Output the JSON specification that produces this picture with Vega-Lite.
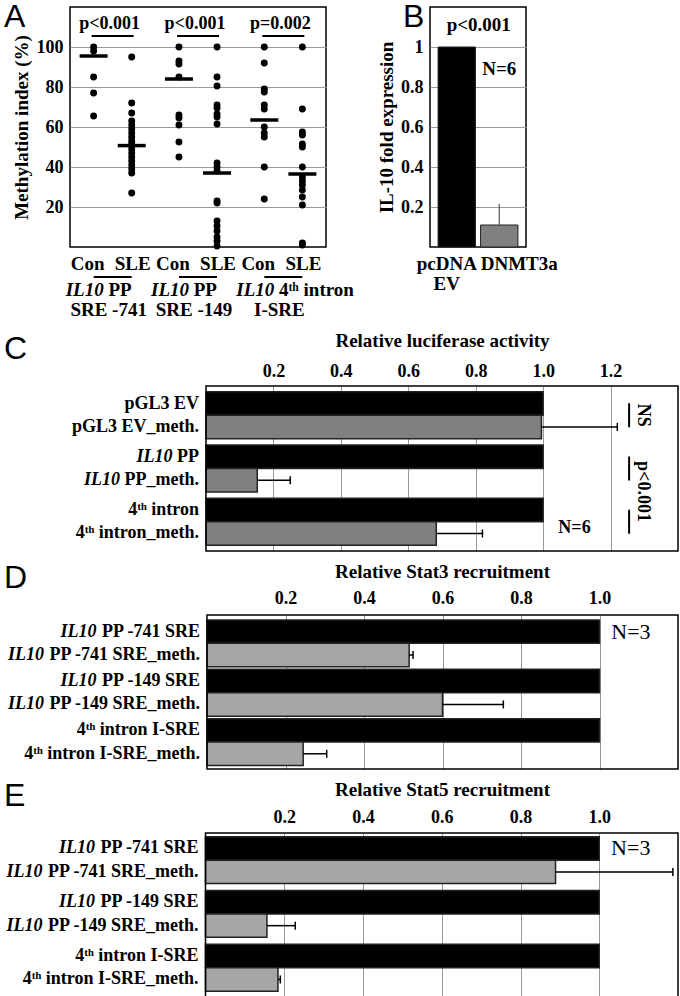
{
  "$schema": "https://vega.github.io/schema/vega-lite/v6.json",
  "background": "white",
  "padding": {"left": 3, "top": 0, "right": 0, "bottom": 0},
  "resolve": {"scale": {"color": "independent"}},
  "config": {
    "font": "Liberation Serif",
    "view": {"stroke": "#000", "strokeWidth": 1.5},
    "axis": {"labelFont": "Liberation Serif", "labelFontWeight": "bold", "labelFontSize": 18, "labelColor": "#000", "titleFont": "Liberation Serif", "titleFontWeight": "bold", "titleFontSize": 19, "titleColor": "#000", "domain": false, "ticks": false, "gridColor": "#999999", "gridWidth": 1},
    "title": {"font": "Liberation Sans", "fontWeight": "normal", "fontSize": 32, "anchor": "start", "frame": "group", "baseline": "alphabetic", "color": "#000"},
    "text": {"font": "Liberation Serif", "fontWeight": "bold", "fontSize": 18, "color": "#000"}
  },
  "datasets": {
    "dotsA": [
      {"grp": "g1", "cond": "Con", "v": 100}, {"grp": "g1", "cond": "Con", "v": 98}, {"grp": "g1", "cond": "Con", "v": 85}, {"grp": "g1", "cond": "Con", "v": 77}, {"grp": "g1", "cond": "Con", "v": 65.5},
      {"grp": "g1", "cond": "SLE", "v": 95}, {"grp": "g1", "cond": "SLE", "v": 72}, {"grp": "g1", "cond": "SLE", "v": 67}, {"grp": "g1", "cond": "SLE", "v": 63}, {"grp": "g1", "cond": "SLE", "v": 61}, {"grp": "g1", "cond": "SLE", "v": 59}, {"grp": "g1", "cond": "SLE", "v": 57}, {"grp": "g1", "cond": "SLE", "v": 55}, {"grp": "g1", "cond": "SLE", "v": 53}, {"grp": "g1", "cond": "SLE", "v": 51.5}, {"grp": "g1", "cond": "SLE", "v": 49}, {"grp": "g1", "cond": "SLE", "v": 47}, {"grp": "g1", "cond": "SLE", "v": 45}, {"grp": "g1", "cond": "SLE", "v": 43}, {"grp": "g1", "cond": "SLE", "v": 41}, {"grp": "g1", "cond": "SLE", "v": 39}, {"grp": "g1", "cond": "SLE", "v": 37}, {"grp": "g1", "cond": "SLE", "v": 27},
      {"grp": "g2", "cond": "Con", "v": 100}, {"grp": "g2", "cond": "Con", "v": 93}, {"grp": "g2", "cond": "Con", "v": 91.5}, {"grp": "g2", "cond": "Con", "v": 85}, {"grp": "g2", "cond": "Con", "v": 66}, {"grp": "g2", "cond": "Con", "v": 64.5}, {"grp": "g2", "cond": "Con", "v": 61}, {"grp": "g2", "cond": "Con", "v": 52.5}, {"grp": "g2", "cond": "Con", "v": 45},
      {"grp": "g2", "cond": "SLE", "v": 100}, {"grp": "g2", "cond": "SLE", "v": 85}, {"grp": "g2", "cond": "SLE", "v": 80.5}, {"grp": "g2", "cond": "SLE", "v": 71}, {"grp": "g2", "cond": "SLE", "v": 69.5}, {"grp": "g2", "cond": "SLE", "v": 66.5}, {"grp": "g2", "cond": "SLE", "v": 65}, {"grp": "g2", "cond": "SLE", "v": 61.5}, {"grp": "g2", "cond": "SLE", "v": 42}, {"grp": "g2", "cond": "SLE", "v": 40}, {"grp": "g2", "cond": "SLE", "v": 38}, {"grp": "g2", "cond": "SLE", "v": 23}, {"grp": "g2", "cond": "SLE", "v": 22}, {"grp": "g2", "cond": "SLE", "v": 13}, {"grp": "g2", "cond": "SLE", "v": 10.5}, {"grp": "g2", "cond": "SLE", "v": 8}, {"grp": "g2", "cond": "SLE", "v": 5}, {"grp": "g2", "cond": "SLE", "v": 3}, {"grp": "g2", "cond": "SLE", "v": 0.5},
      {"grp": "g3", "cond": "Con", "v": 100}, {"grp": "g3", "cond": "Con", "v": 92}, {"grp": "g3", "cond": "Con", "v": 79}, {"grp": "g3", "cond": "Con", "v": 77.5}, {"grp": "g3", "cond": "Con", "v": 71}, {"grp": "g3", "cond": "Con", "v": 69}, {"grp": "g3", "cond": "Con", "v": 60}, {"grp": "g3", "cond": "Con", "v": 57}, {"grp": "g3", "cond": "Con", "v": 55}, {"grp": "g3", "cond": "Con", "v": 40}, {"grp": "g3", "cond": "Con", "v": 24},
      {"grp": "g3", "cond": "SLE", "v": 100}, {"grp": "g3", "cond": "SLE", "v": 69}, {"grp": "g3", "cond": "SLE", "v": 57.5}, {"grp": "g3", "cond": "SLE", "v": 56}, {"grp": "g3", "cond": "SLE", "v": 51.5}, {"grp": "g3", "cond": "SLE", "v": 50}, {"grp": "g3", "cond": "SLE", "v": 40}, {"grp": "g3", "cond": "SLE", "v": 35}, {"grp": "g3", "cond": "SLE", "v": 33}, {"grp": "g3", "cond": "SLE", "v": 31}, {"grp": "g3", "cond": "SLE", "v": 28.5}, {"grp": "g3", "cond": "SLE", "v": 25}, {"grp": "g3", "cond": "SLE", "v": 21}, {"grp": "g3", "cond": "SLE", "v": 2}, {"grp": "g3", "cond": "SLE", "v": 1}
    ],
    "meansA": [
      {"grp": "g1", "cond": "Con", "v": 95.5}, {"grp": "g1", "cond": "SLE", "v": 50.7},
      {"grp": "g2", "cond": "Con", "v": 84}, {"grp": "g2", "cond": "SLE", "v": 37},
      {"grp": "g3", "cond": "Con", "v": 63.5}, {"grp": "g3", "cond": "SLE", "v": 36.5}
    ],
    "groupsA": [
      {"grp": "g1", "p": "p<0.001", "pre": "IL10", "mid": "PP", "l2": "SRE -741"},
      {"grp": "g2", "p": "p<0.001", "pre": "IL10", "mid": "PP", "l2": "SRE -149"},
      {"grp": "g3", "p": "p=0.002", "pre": "IL10", "mid": "4ᵗʰ intron", "l2": "I-SRE"}
    ],
    "barsB": [
      {"cond": "pcDNA", "v": 1},
      {"cond": "DNMT3a", "v": 0.11, "hi": 0.215}
    ],
    "barsC": [
      {"pair": "EV", "type": "ctrl", "v": 1, "pre": "", "lab": "pGL3 EV"},
      {"pair": "EV", "type": "meth", "v": 0.995, "hi": 1.22, "pre": "", "lab": "pGL3 EV_meth."},
      {"pair": "PP", "type": "ctrl", "v": 1, "pre": "IL10", "lab": "PP"},
      {"pair": "PP", "type": "meth", "v": 0.152, "hi": 0.25, "pre": "IL10", "lab": "PP_meth."},
      {"pair": "intron", "type": "ctrl", "v": 1, "pre": "", "lab": "4ᵗʰ intron"},
      {"pair": "intron", "type": "meth", "v": 0.683, "hi": 0.82, "pre": "", "lab": "4ᵗʰ intron_meth."}
    ],
    "barsD": [
      {"pair": "741", "type": "ctrl", "v": 1, "pre": "IL10", "lab": "PP -741 SRE"},
      {"pair": "741", "type": "meth", "v": 0.515, "hi": 0.525, "pre": "IL10", "lab": "PP -741 SRE_meth."},
      {"pair": "149", "type": "ctrl", "v": 1, "pre": "IL10", "lab": "PP -149 SRE"},
      {"pair": "149", "type": "meth", "v": 0.6, "hi": 0.755, "pre": "IL10", "lab": "PP -149 SRE_meth."},
      {"pair": "isre", "type": "ctrl", "v": 1, "pre": "", "lab": "4ᵗʰ intron I-SRE"},
      {"pair": "isre", "type": "meth", "v": 0.245, "hi": 0.305, "pre": "", "lab": "4ᵗʰ intron I-SRE_meth."}
    ],
    "barsE": [
      {"pair": "741", "type": "ctrl", "v": 1, "pre": "IL10", "lab": "PP -741 SRE"},
      {"pair": "741", "type": "meth", "v": 0.889, "hi": 1.187, "pre": "IL10", "lab": "PP -741 SRE_meth."},
      {"pair": "149", "type": "ctrl", "v": 1, "pre": "IL10", "lab": "PP -149 SRE"},
      {"pair": "149", "type": "meth", "v": 0.156, "hi": 0.228, "pre": "IL10", "lab": "PP -149 SRE_meth."},
      {"pair": "isre", "type": "ctrl", "v": 1, "pre": "", "lab": "4ᵗʰ intron I-SRE"},
      {"pair": "isre", "type": "meth", "v": 0.184, "hi": 0.19, "pre": "", "lab": "4ᵗʰ intron I-SRE_meth."}
    ],
    "boxC": [{"lo": 0, "hi": 1.4}],
    "boxDE": [{"lo": 0, "hi": 1.2}]
  },
  "columns": 1,
  "spacing": 10,
  "concat": [
    {
      "spacing": 21,
      "hconcat": [
        {
          "width": 256, "height": 240,
          "title": {"text": "A", "dx": -66, "offset": -27},
          "encoding": {
            "x": {"field": "grp", "type": "nominal", "sort": ["g1", "g2", "g3"], "scale": {"type": "band", "paddingInner": 0, "paddingOuter": 0}, "axis": null}
          },
          "layer": [
            {
              "data": {"name": "dotsA"},
              "mark": {"type": "point", "filled": true, "size": 48, "color": "#000", "opacity": 1},
              "encoding": {
                "xOffset": {"field": "cond", "type": "nominal", "sort": ["Con", "SLE"], "scale": {"paddingInner": 0, "paddingOuter": 0.12}},
                "y": {"field": "v", "type": "quantitative", "scale": {"domain": [0, 120], "nice": false, "zero": false}, "axis": {"values": [20, 40, 60, 80, 100], "grid": true, "title": "Methylation index (%)", "labelPadding": 7, "titlePadding": 5}}
              }
            },
            {
              "data": {"name": "meansA"},
              "mark": {"type": "tick", "orient": "horizontal", "size": 28, "thickness": 3.5, "color": "#000", "opacity": 1},
              "encoding": {
                "xOffset": {"field": "cond", "type": "nominal", "sort": ["Con", "SLE"]},
                "y": {"field": "v", "type": "quantitative"}
              }
            },
            {
              "data": {"name": "groupsA"},
              "mark": {"type": "text", "fontSize": 18, "baseline": "middle", "dx": -3},
              "encoding": {"y": {"datum": 111.5}, "text": {"field": "p"}}
            },
            {
              "data": {"name": "groupsA"},
              "mark": {"type": "tick", "orient": "horizontal", "size": 42, "thickness": 2, "color": "#000", "opacity": 1},
              "encoding": {"y": {"datum": 105.5}}
            },
            {
              "data": {"name": "meansA"},
              "transform": [{"filter": "datum.cond == 'Con'"}],
              "mark": {"type": "text", "fontSize": 19, "baseline": "middle", "dy": 17, "dx": -6},
              "encoding": {
                "xOffset": {"field": "cond", "type": "nominal", "sort": ["Con", "SLE"]},
                "y": {"datum": 0},
                "text": {"field": "cond"}
              }
            },
            {
              "data": {"name": "meansA"},
              "transform": [{"filter": "datum.cond == 'SLE'"}],
              "mark": {"type": "text", "fontSize": 19, "baseline": "middle", "dy": 17, "dx": 1},
              "encoding": {
                "xOffset": {"field": "cond", "type": "nominal", "sort": ["Con", "SLE"]},
                "y": {"datum": 0},
                "text": {"field": "cond"}
              }
            },
            {
              "data": {"name": "groupsA"},
              "mark": {"type": "tick", "orient": "horizontal", "size": 38, "thickness": 2, "color": "#000", "opacity": 1},
              "encoding": {"y": {"datum": -15}}
            },
            {
              "data": {"name": "groupsA"},
              "mark": {"type": "text", "fontSize": 19, "fontStyle": "italic", "align": "right", "baseline": "middle", "dx": -9, "dy": 43},
              "encoding": {"y": {"datum": 0}, "text": {"field": "pre"}}
            },
            {
              "data": {"name": "groupsA"},
              "mark": {"type": "text", "fontSize": 19, "align": "left", "baseline": "middle", "dx": -4.25, "dy": 43},
              "encoding": {"y": {"datum": 0}, "text": {"field": "mid"}}
            },
            {
              "data": {"name": "groupsA"},
              "mark": {"type": "text", "fontSize": 19, "align": "center", "baseline": "middle", "dx": -4, "dy": 63},
              "encoding": {"y": {"datum": 0}, "text": {"field": "l2"}}
            }
          ]
        },
        {
          "width": 96, "height": 240,
          "title": {"text": "B", "dx": -27, "offset": -27},
          "data": {"name": "barsB"},
          "encoding": {
            "x": {"field": "cond", "type": "nominal", "sort": ["pcDNA", "DNMT3a"], "scale": {"paddingInner": 0.12, "paddingOuter": 0.19},
                  "axis": {"title": null, "labelAngle": 0, "labelFontSize": 19, "labelPadding": 7, "labelLineHeight": 20,
                           "labelOffset": {"condition": {"test": "datum.value == 'pcDNA'", "value": -10}, "value": 20},
                           "labelExpr": "datum.value == 'pcDNA' ? ['pcDNA', 'EV'] : datum.value"}}
          },
          "layer": [
            {
              "mark": {"type": "bar", "stroke": "#222", "strokeWidth": 1},
              "encoding": {
                "y": {"field": "v", "type": "quantitative", "scale": {"domain": [0, 1.2], "nice": false}, "axis": {"values": [0.2, 0.4, 0.6, 0.8, 1], "labelExpr": "datum.value == 1 ? '1' : format(datum.value, '.1f')", "grid": true, "title": "IL-10 fold expression", "labelPadding": 7, "titlePadding": 4}},
                "color": {"field": "cond", "type": "nominal", "scale": {"domain": ["pcDNA", "DNMT3a"], "range": ["#000000", "#808080"]}, "legend": null}
              }
            },
            {
              "transform": [{"filter": "isValid(datum.hi)"}],
              "mark": {"type": "rule", "color": "#555", "strokeWidth": 1.2},
              "encoding": {"y": {"field": "v", "type": "quantitative"}, "y2": {"field": "hi"}}
            },
            {
              "transform": [{"filter": "datum.cond == 'pcDNA'"}],
              "mark": {"type": "text", "fontSize": 19, "baseline": "middle", "dx": 22, "text": "p<0.001"},
              "encoding": {"y": {"datum": 1.11}}
            },
            {
              "transform": [{"filter": "datum.cond == 'DNMT3a'"}],
              "mark": {"type": "text", "fontSize": 19, "baseline": "middle", "text": "N=6"},
              "encoding": {"y": {"datum": 0.89}}
            }
          ]
        }
      ]
    },
    {
      "width": 608, "height": 165,
      "view": {"stroke": null},
      "title": {"text": "C", "dx": -66, "offset": -35},
      "encoding": {
        "y": {"field": "pair", "type": "nominal", "sort": ["EV", "PP", "intron"], "scale": {"paddingInner": 0.12, "paddingOuter": 0.11}, "axis": null}
      },
      "layer": [
        {
          "data": {"name": "barsC"},
          "mark": {"type": "bar", "stroke": "#222", "strokeWidth": 1.5},
          "encoding": {
            "x": {"field": "v", "type": "quantitative", "scale": {"domain": [0, 1.4], "range": [136, 608], "nice": false}, "axis": {"orient": "top", "values": [0.2, 0.4, 0.6, 0.8, 1, 1.2], "format": ".1f", "grid": true, "title": "Relative luciferase activity", "titleX": 372, "labelPadding": 6, "titlePadding": 12}},
            "yOffset": {"field": "type", "type": "nominal", "sort": ["ctrl", "meth"], "scale": {"paddingInner": 0, "paddingOuter": 0}},
            "color": {"field": "type", "type": "nominal", "scale": {"domain": ["ctrl", "meth"], "range": ["#000000", "#808080"]}, "legend": null}
          }
        },
        {
          "data": {"name": "boxC"},
          "mark": {"type": "rect", "filled": false, "stroke": "#000", "strokeWidth": 1.5},
          "encoding": {"x": {"field": "lo", "type": "quantitative"}, "x2": {"field": "hi"}, "y": {"value": 0}, "y2": {"value": "height"}}
        },
        {
          "data": {"name": "barsC"},
          "transform": [{"filter": "isValid(datum.hi)"}],
          "mark": {"type": "rule", "color": "#000", "strokeWidth": 1.5},
          "encoding": {"x": {"field": "v", "type": "quantitative"}, "x2": {"field": "hi"}, "yOffset": {"field": "type", "type": "nominal", "sort": ["ctrl", "meth"]}}
        },
        {
          "data": {"name": "barsC"},
          "transform": [{"filter": "isValid(datum.hi)"}],
          "mark": {"type": "tick", "orient": "vertical", "size": 8, "thickness": 1.5, "color": "#000", "opacity": 1},
          "encoding": {"x": {"field": "hi", "type": "quantitative"}, "yOffset": {"field": "type", "type": "nominal", "sort": ["ctrl", "meth"]}}
        },
        {
          "data": {"name": "barsC"},
          "mark": {"type": "text", "align": "right", "baseline": "middle", "dx": -7},
          "encoding": {"x": {"datum": 0}, "yOffset": {"field": "type", "type": "nominal", "sort": ["ctrl", "meth"]}, "text": {"field": "lab"}}
        },
        {
          "data": {"name": "barsC"},
          "transform": [{"filter": "datum.pre != '' && datum.type == 'ctrl'"}],
          "mark": {"type": "text", "align": "right", "baseline": "middle", "fontStyle": "italic", "dx": -33.5},
          "encoding": {"x": {"datum": 0}, "yOffset": {"field": "type", "type": "nominal", "sort": ["ctrl", "meth"]}, "text": {"field": "pre"}}
        },
        {
          "data": {"name": "barsC"},
          "transform": [{"filter": "datum.pre != '' && datum.type == 'meth'"}],
          "mark": {"type": "text", "align": "right", "baseline": "middle", "fontStyle": "italic", "dx": -86},
          "encoding": {"x": {"datum": 0}, "yOffset": {"field": "type", "type": "nominal", "sort": ["ctrl", "meth"]}, "text": {"field": "pre"}}
        },
        {
          "data": {"name": "barsC"},
          "transform": [{"filter": "datum.type == 'ctrl'"}],
          "mark": {"type": "tick", "orient": "vertical", "size": 24, "thickness": 2, "color": "#000", "opacity": 1},
          "encoding": {"x": {"datum": 1.255}}
        },
        {
          "data": {"name": "barsC"},
          "transform": [{"filter": "datum.type == 'ctrl' && datum.pair == 'EV'"}],
          "mark": {"type": "text", "angle": 90, "align": "center", "baseline": "middle", "text": "NS"},
          "encoding": {"x": {"datum": 1.297}}
        },
        {
          "data": {"name": "barsC"},
          "transform": [{"filter": "datum.type == 'ctrl' && datum.pair == 'PP'"}],
          "mark": {"type": "text", "angle": 90, "align": "center", "baseline": "middle", "dx": 23, "text": "p<0.001"},
          "encoding": {"x": {"datum": 1.297}}
        },
        {
          "data": {"name": "barsC"},
          "transform": [{"filter": "datum.type == 'meth' && datum.pair == 'intron'"}],
          "mark": {"type": "text", "align": "center", "baseline": "middle", "dy": -5, "text": "N=6"},
          "encoding": {"x": {"datum": 1.093}, "yOffset": {"field": "type", "type": "nominal", "sort": ["ctrl", "meth"]}}
        }
      ]
    },
    {
      "width": 608, "height": 154,
      "view": {"stroke": null},
      "title": {"text": "D", "dx": -66, "offset": -33},
      "encoding": {
        "y": {"field": "pair", "type": "nominal", "sort": ["741", "149", "isre"], "scale": {"paddingInner": 0.08, "paddingOuter": 0.1}, "axis": null}
      },
      "layer": [
        {
          "data": {"name": "barsD"},
          "mark": {"type": "bar", "stroke": "#222", "strokeWidth": 1.5},
          "encoding": {
            "x": {"field": "v", "type": "quantitative", "scale": {"domain": [0, 1.2], "range": [137, 608], "nice": false}, "axis": {"orient": "top", "values": [0.2, 0.4, 0.6, 0.8, 1], "format": ".1f", "grid": true, "title": "Relative Stat3 recruitment", "titleX": 372, "labelPadding": 8, "titlePadding": 8}},
            "yOffset": {"field": "type", "type": "nominal", "sort": ["ctrl", "meth"], "scale": {"paddingInner": 0, "paddingOuter": 0}},
            "color": {"field": "type", "type": "nominal", "scale": {"domain": ["ctrl", "meth"], "range": ["#000000", "#a6a6a6"]}, "legend": null}
          }
        },
        {
          "data": {"name": "boxDE"},
          "mark": {"type": "rect", "filled": false, "stroke": "#000", "strokeWidth": 1.5},
          "encoding": {"x": {"field": "lo", "type": "quantitative"}, "x2": {"field": "hi"}, "y": {"value": 0}, "y2": {"value": "height"}}
        },
        {
          "data": {"name": "barsD"},
          "transform": [{"filter": "isValid(datum.hi)"}],
          "mark": {"type": "rule", "color": "#000", "strokeWidth": 1.5},
          "encoding": {"x": {"field": "v", "type": "quantitative"}, "x2": {"field": "hi"}, "yOffset": {"field": "type", "type": "nominal", "sort": ["ctrl", "meth"]}}
        },
        {
          "data": {"name": "barsD"},
          "transform": [{"filter": "isValid(datum.hi)"}],
          "mark": {"type": "tick", "orient": "vertical", "size": 8, "thickness": 1.5, "color": "#000", "opacity": 1},
          "encoding": {"x": {"field": "hi", "type": "quantitative"}, "yOffset": {"field": "type", "type": "nominal", "sort": ["ctrl", "meth"]}}
        },
        {
          "data": {"name": "barsD"},
          "mark": {"type": "text", "align": "right", "baseline": "middle", "dx": -7},
          "encoding": {"x": {"datum": 0}, "yOffset": {"field": "type", "type": "nominal", "sort": ["ctrl", "meth"]}, "text": {"field": "lab"}}
        },
        {
          "data": {"name": "barsD"},
          "transform": [{"filter": "datum.pre != '' && datum.type == 'ctrl'"}],
          "mark": {"type": "text", "align": "right", "baseline": "middle", "fontStyle": "italic", "dx": -110.5},
          "encoding": {"x": {"datum": 0}, "yOffset": {"field": "type", "type": "nominal", "sort": ["ctrl", "meth"]}, "text": {"field": "pre"}}
        },
        {
          "data": {"name": "barsD"},
          "transform": [{"filter": "datum.pre != '' && datum.type == 'meth'"}],
          "mark": {"type": "text", "align": "right", "baseline": "middle", "fontStyle": "italic", "dx": -163},
          "encoding": {"x": {"datum": 0}, "yOffset": {"field": "type", "type": "nominal", "sort": ["ctrl", "meth"]}, "text": {"field": "pre"}}
        },
        {
          "data": {"name": "barsD"},
          "transform": [{"filter": "datum.type == 'ctrl' && datum.pair == '741'"}],
          "mark": {"type": "text", "align": "center", "baseline": "middle", "fontWeight": "normal", "fontSize": 22, "text": "N=3"},
          "encoding": {"x": {"datum": 1.08}, "yOffset": {"field": "type", "type": "nominal", "sort": ["ctrl", "meth"]}}
        }
      ]
    },
    {
      "width": 608, "height": 164,
      "view": {"stroke": null},
      "title": {"text": "E", "dx": -66, "offset": -33},
      "encoding": {
        "y": {"field": "pair", "type": "nominal", "sort": ["741", "149", "isre"], "scale": {"paddingInner": 0.09, "paddingOuter": 0.07}, "axis": null}
      },
      "layer": [
        {
          "data": {"name": "barsE"},
          "mark": {"type": "bar", "stroke": "#222", "strokeWidth": 1.5},
          "encoding": {
            "x": {"field": "v", "type": "quantitative", "scale": {"domain": [0, 1.2], "range": [135.5, 608], "nice": false}, "axis": {"orient": "top", "values": [0.2, 0.4, 0.6, 0.8, 1], "format": ".1f", "grid": true, "title": "Relative Stat5 recruitment", "titleX": 372, "labelPadding": 7, "titlePadding": 9}},
            "yOffset": {"field": "type", "type": "nominal", "sort": ["ctrl", "meth"], "scale": {"paddingInner": 0, "paddingOuter": 0}},
            "color": {"field": "type", "type": "nominal", "scale": {"domain": ["ctrl", "meth"], "range": ["#000000", "#a6a6a6"]}, "legend": null}
          }
        },
        {
          "data": {"name": "boxDE"},
          "mark": {"type": "rect", "filled": false, "stroke": "#000", "strokeWidth": 1.5},
          "encoding": {"x": {"field": "lo", "type": "quantitative"}, "x2": {"field": "hi"}, "y": {"value": 0}, "y2": {"value": "height"}}
        },
        {
          "data": {"name": "barsE"},
          "transform": [{"filter": "isValid(datum.hi)"}],
          "mark": {"type": "rule", "color": "#000", "strokeWidth": 1.5},
          "encoding": {"x": {"field": "v", "type": "quantitative"}, "x2": {"field": "hi"}, "yOffset": {"field": "type", "type": "nominal", "sort": ["ctrl", "meth"]}}
        },
        {
          "data": {"name": "barsE"},
          "transform": [{"filter": "isValid(datum.hi)"}],
          "mark": {"type": "tick", "orient": "vertical", "size": 8, "thickness": 1.5, "color": "#000", "opacity": 1},
          "encoding": {"x": {"field": "hi", "type": "quantitative"}, "yOffset": {"field": "type", "type": "nominal", "sort": ["ctrl", "meth"]}}
        },
        {
          "data": {"name": "barsE"},
          "mark": {"type": "text", "align": "right", "baseline": "middle", "dx": -7},
          "encoding": {"x": {"datum": 0}, "yOffset": {"field": "type", "type": "nominal", "sort": ["ctrl", "meth"]}, "text": {"field": "lab"}}
        },
        {
          "data": {"name": "barsE"},
          "transform": [{"filter": "datum.pre != '' && datum.type == 'ctrl'"}],
          "mark": {"type": "text", "align": "right", "baseline": "middle", "fontStyle": "italic", "dx": -110.5},
          "encoding": {"x": {"datum": 0}, "yOffset": {"field": "type", "type": "nominal", "sort": ["ctrl", "meth"]}, "text": {"field": "pre"}}
        },
        {
          "data": {"name": "barsE"},
          "transform": [{"filter": "datum.pre != '' && datum.type == 'meth'"}],
          "mark": {"type": "text", "align": "right", "baseline": "middle", "fontStyle": "italic", "dx": -163},
          "encoding": {"x": {"datum": 0}, "yOffset": {"field": "type", "type": "nominal", "sort": ["ctrl", "meth"]}, "text": {"field": "pre"}}
        },
        {
          "data": {"name": "barsE"},
          "transform": [{"filter": "datum.type == 'ctrl' && datum.pair == '741'"}],
          "mark": {"type": "text", "align": "center", "baseline": "middle", "fontWeight": "normal", "fontSize": 22, "text": "N=3"},
          "encoding": {"x": {"datum": 1.08}, "yOffset": {"field": "type", "type": "nominal", "sort": ["ctrl", "meth"]}}
        }
      ]
    }
  ]
}
